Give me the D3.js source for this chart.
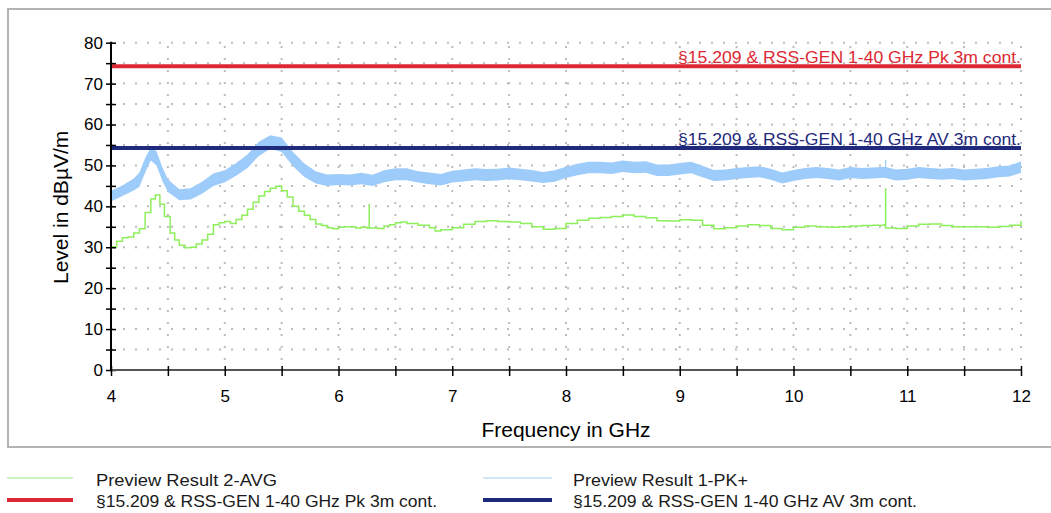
<!DOCTYPE html>
<html>
<head>
<meta charset="utf-8">
<script src="https://cdn.jsdelivr.net/npm/d3@7"></script>
<style>
html,body{margin:0;padding:0;background:#fff;}
svg{display:block;font-family:"Liberation Sans",Arial,sans-serif;}
</style>
</head>
<body>
<svg id="chart" width="1051" height="513"></svg>
<script>
// ---- data ----
const xTicks = [4,4.5,5,5.5,6,6.5,7,7.5,8,8.5,9,9.5,10,10.5,11,11.5,12];
const xTickLabels = ["4","","5","","6","","7","","8","","9","","10","","11","","12"];
const yTicks = [0,5,10,15,20,25,30,35,40,45,50,55,60,65,70,75,80];
const yTickLabels = ["0","","10","","20","","30","","40","","50","","60","","70","","80"];

const pkFreq = [4.0,4.1,4.2,4.25,4.3,4.35,4.4,4.45,4.5,4.6,4.7,4.8,4.9,5.0,5.1,5.2,5.3,5.4,5.5,5.6,5.7,5.8,5.9,
  6.0,6.1,6.2,6.3,6.4,6.5,6.6,6.7,6.8,6.9,7.0,7.1,7.2,7.3,7.4,7.5,7.6,7.7,7.8,7.9,
  8.0,8.1,8.2,8.3,8.4,8.5,8.6,8.7,8.8,8.9,9.0,9.1,9.2,9.3,9.4,9.5,9.6,9.7,9.8,9.9,
  10.0,10.1,10.2,10.3,10.4,10.5,10.6,10.7,10.8,10.9,11.0,11.1,11.2,11.3,11.4,11.5,11.6,11.7,11.8,11.9,12.0];
const pkLow = [41.2,42.5,43.9,44.8,48.2,51.2,50.0,46.3,43.5,41.5,41.7,43.1,45.0,45.9,47.5,49.4,52.3,54.1,53.3,49.8,47.2,45.6,45.0,
  45.2,45.1,45.4,45.0,45.9,46.4,46.4,45.8,45.4,45.1,45.8,46.1,46.4,46.2,46.3,46.6,46.4,46.1,45.7,46.0,
  46.9,47.6,48.1,48.1,47.9,48.4,48.1,48.2,47.4,47.4,47.8,48.1,47.1,46.2,46.3,46.7,46.9,47.1,46.5,45.6,
  46.2,46.7,46.9,46.7,46.3,46.9,46.7,46.8,47.0,46.3,46.5,46.9,46.7,46.5,46.7,46.3,46.5,46.7,47.1,47.3,48.2];
const pkHigh = [43.8,45.1,46.8,48.3,51.8,54.4,53.5,49.7,46.6,44.2,44.4,46.0,48.0,48.8,50.6,52.7,55.8,57.4,56.8,53.3,50.5,48.6,47.8,
  47.9,47.8,48.2,47.7,48.8,49.3,49.3,48.6,48.3,47.9,48.7,49.0,49.3,49.1,49.2,49.5,49.2,48.9,48.4,48.8,
  49.7,50.4,50.9,50.9,50.7,51.2,50.9,51.0,50.2,50.2,50.6,50.9,49.9,48.9,49.0,49.4,49.6,49.8,49.2,48.3,
  48.9,49.4,49.6,49.4,49.0,49.6,49.4,49.5,49.7,49.0,49.2,49.6,49.4,49.2,49.4,49.0,49.2,49.4,49.8,50.0,51.0];
const pkSpikeFreq = [10.81];
const pkSpikeBase = [48.3];
const pkSpikeTop = [51.3];

const avgFreq = [4.0,4.05,4.1,4.15,4.2,4.25,4.3,4.35,4.39,4.43,4.47,4.52,4.56,4.6,4.65,4.7,4.75,4.8,4.85,4.9,4.95,
  5.0,5.05,5.1,5.15,5.2,5.25,5.3,5.35,5.4,5.45,5.5,5.55,5.6,5.65,5.7,5.75,5.8,5.85,5.9,5.95,
  6.0,6.05,6.1,6.15,6.2,6.25,6.27,6.27,6.27,6.35,6.4,6.45,6.5,6.55,6.6,6.7,6.8,6.85,6.9,
  7.0,7.1,7.2,7.3,7.4,7.5,7.6,7.7,7.8,7.9,8.0,8.1,8.2,8.3,8.4,8.5,8.6,8.7,8.8,8.9,
  9.0,9.1,9.2,9.3,9.4,9.5,9.6,9.7,9.8,9.9,10.0,10.1,10.2,10.3,10.4,10.5,10.6,10.7,10.8,10.81,10.81,10.81,10.9,
  11.0,11.1,11.2,11.3,11.4,11.5,11.6,11.7,11.8,11.9,12.0];
const avgLevel = [30.1,31.5,32.3,32.5,33.5,34.5,38.5,41.8,42.8,40.5,37.5,33.5,31.8,30.5,29.9,30.0,30.8,31.8,33.2,35.5,36.0,
  36.3,35.8,36.8,37.8,39.3,41.0,42.5,43.6,44.4,44.9,43.8,42.3,40.0,38.8,37.8,36.8,35.7,35.3,34.8,34.5,
  34.9,35.0,35.0,34.7,34.9,34.7,34.7,40.6,34.7,34.6,35.2,35.5,36.0,36.2,35.8,35.4,34.8,34.0,34.3,
  34.8,35.6,36.3,36.5,36.3,36.2,35.8,35.0,34.4,34.6,35.8,36.6,37.1,37.3,37.5,37.9,37.5,37.2,36.5,36.4,
  36.7,36.6,35.4,34.5,34.8,35.2,35.5,35.3,34.6,34.3,34.9,35.2,35.0,34.9,35.0,35.2,35.3,35.4,35.5,35.5,44.4,34.7,34.6,
  35.2,35.6,35.7,35.3,35.0,35.0,35.0,34.9,35.1,35.4,36.4];

const limitNames = ["§15.209 & RSS-GEN 1-40 GHz Pk 3m cont.", "§15.209 & RSS-GEN 1-40 GHz AV 3m cont."];
const limitValues = [74, 54];
const limitColors = ["#dc2832", "#1f2a7c"];

const legendNames = ["Preview Result 2-AVG", "Preview Result 1-PK+", limitNames[0], limitNames[1]];
const legendColors = ["#c9f3c0", "#cfe6fb", limitColors[0], limitColors[1]];

const xTitle = "Frequency in GHz";
const yTitle = "Level in dBµV/m";

// ---- drawing ----
const svg = d3.select("#chart");
const x = d3.scaleLinear().domain([4, 12]).range([111, 1021]);
const y = d3.scaleLinear().domain([0, 80]).range([370, 42.7]);

// outer frame
svg.append("rect").attr("x", 8).attr("y", 9).attr("width", 1060).attr("height", 438)
  .attr("fill", "none").attr("stroke", "#b3b3b3").attr("stroke-width", 2);

// grid
const grid = svg.append("g");
grid.selectAll("line.h").data(yTicks.filter(d => d > 0)).join("line")
  .attr("x1", x(4)).attr("x2", x(12)).attr("y1", d => y(d)).attr("y2", d => y(d))
  .attr("stroke", "#bcbcbc").attr("stroke-width", 2).attr("stroke-dasharray", "2,10")
  .attr("stroke-dashoffset", -12);
grid.selectAll("line.v").data(xTicks.filter(d => d > 4)).join("line")
  .attr("x1", d => x(d)).attr("x2", d => x(d)).attr("y1", y(0)).attr("y2", y(80))
  .attr("stroke", "#bcbcbc").attr("stroke-width", 2).attr("stroke-dasharray", "2,10")
  .attr("stroke-dashoffset", -10);

// PK band
const pkData = pkFreq.map((f, i) => ({f, lo: pkLow[i], hi: pkHigh[i]}));
svg.append("path").datum(pkData)
  .attr("d", d3.area().x(d => x(d.f)).y0(d => y(d.lo)).y1(d => y(d.hi)))
  .attr("fill", "#9dccfb");
svg.selectAll("line.pkspike").data(pkSpikeFreq).join("line")
  .attr("x1", d => x(d)).attr("x2", d => x(d))
  .attr("y1", (d, i) => y(pkSpikeBase[i])).attr("y2", (d, i) => y(pkSpikeTop[i]))
  .attr("stroke", "#9dccfb").attr("stroke-width", 1.2);

// AVG line
const avgData = avgFreq.map((f, i) => ({f, v: avgLevel[i]}));
svg.append("path").datum(avgData)
  .attr("d", d3.line().x(d => x(d.f)).y(d => y(d.v)).curve(d3.curveStepAfter))
  .attr("fill", "none").attr("stroke", "#8def5c").attr("stroke-width", 1.5);

// limit lines + labels
limitValues.forEach((v, i) => {
  svg.append("line").attr("x1", x(4)).attr("x2", x(12))
    .attr("y1", y(v) - 1).attr("y2", y(v) - 1)
    .attr("stroke", limitColors[i]).attr("stroke-width", 4);
  svg.append("text").attr("x", x(12)).attr("y", y(v) - 4)
    .attr("text-anchor", "end").attr("font-size", 17)
    .attr("fill", limitColors[i])
    .attr("textLength", 343).attr("lengthAdjust", "spacingAndGlyphs")
    .text(limitNames[i]);
});

// y axis
const yAxis = svg.append("g").attr("transform", `translate(${x(4)},0)`)
  .call(d3.axisLeft(y).tickValues(yTicks).tickFormat((d, i) => yTickLabels[i]).tickSize(6));
yAxis.select(".domain").attr("stroke", "#000").attr("stroke-width", 2).attr("d", `M0,${y(80)-1}V${y(0)}`);
yAxis.selectAll(".tick line").attr("x1", 5).attr("x2", -5).attr("stroke", "#000").attr("stroke-width", 1.5);
yAxis.selectAll(".tick text").attr("x", -8).attr("font-size", 17).attr("fill", "#000")
  .attr("font-family", "Liberation Sans, Arial, sans-serif");

// x axis
const xAxis = svg.append("g").attr("transform", `translate(0,${y(0)})`)
  .call(d3.axisBottom(x).tickValues(xTicks).tickFormat((d, i) => xTickLabels[i]).tickSize(6));
xAxis.select(".domain").attr("stroke", "#555").attr("stroke-width", 2).attr("d", `M${x(4)},0H${x(12)}`);
xAxis.selectAll(".tick line").attr("y1", -4).attr("y2", 6).attr("stroke", "#000").attr("stroke-width", 1.5);
xAxis.selectAll(".tick text").attr("y", 32).attr("dy", null).attr("font-size", 17).attr("fill", "#000")
  .attr("font-family", "Liberation Sans, Arial, sans-serif");

// axis titles
svg.append("text").attr("x", (x(4) + x(12)) / 2).attr("y", 437)
  .attr("text-anchor", "middle").attr("font-size", 21).attr("fill", "#000").text(xTitle);
svg.append("text").attr("transform", `translate(68,${(y(0) + y(80)) / 2 + 1}) rotate(-90)`)
  .attr("text-anchor", "middle").attr("font-size", 21).attr("fill", "#000").text(yTitle);

// legend
const legPos = [
  {lx1: 7, lx2: 73, ly: 478, tx: 96, ty: 486, w: 2, tl: 181},
  {lx1: 483, lx2: 552, ly: 478, tx: 573, ty: 486, w: 2, tl: 175},
  {lx1: 7, lx2: 73, ly: 500, tx: 96, ty: 507, w: 4, tl: 341},
  {lx1: 483, lx2: 552, ly: 500, tx: 573, ty: 507, w: 4, tl: 344}
];
legendNames.forEach((name, i) => {
  const p = legPos[i];
  svg.append("line").attr("x1", p.lx1).attr("x2", p.lx2).attr("y1", p.ly).attr("y2", p.ly)
    .attr("stroke", legendColors[i]).attr("stroke-width", p.w);
  svg.append("text").attr("x", p.tx).attr("y", p.ty).attr("font-size", 16.5).attr("fill", "#1a1a1a")
    .attr("textLength", p.tl).attr("lengthAdjust", "spacingAndGlyphs").text(name);
});
</script>
</body>
</html>
